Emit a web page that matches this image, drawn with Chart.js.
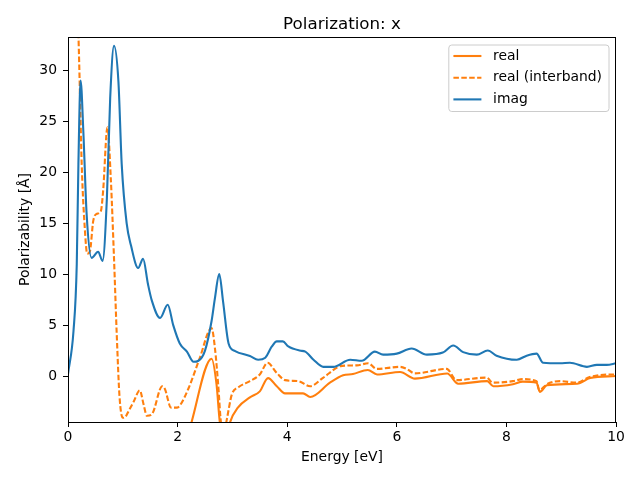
<!DOCTYPE html>
<html>
<head>
<meta charset="utf-8">
<script src="https://cdn.jsdelivr.net/npm/chart.js@4.4.1/dist/chart.umd.min.js"></script>
<style>
  html, body { margin: 0; padding: 0; background: #fff; }
  canvas { display: block; }
</style>
</head>
<body>
<canvas id="polChart" width="640" height="480"></canvas>
<script>
// values
const realEnergy = [0.0, 0.5, 1.0, 1.5, 2.0, 2.2, 2.62, 2.71, 2.77, 2.86, 2.96, 3.1, 3.32, 3.5, 3.65, 3.81, 3.96, 4.2, 4.29, 4.42, 4.78, 5.02, 5.2, 5.47, 5.64, 6.06, 6.33, 6.92, 7.12, 7.65, 7.76, 8.12, 8.3, 8.55, 8.61, 8.74, 9.29, 9.53, 10];
const realValues = [-60, -35, -22, -14, -8, -5.5, 1.7, -0.8, -4.5, -7, -4.5, -3.1, -2.1, -1.5, -0.2, -1.0, -1.7, -1.7, -1.7, -2.05, -0.65, 0.07, 0.2, 0.6, 0.15, 0.4, -0.25, 0.25, -0.75, -0.5, -1.0, -0.8, -0.55, -0.65, -1.55, -0.9, -0.75, -0.2, 0.0];

const interEnergy = [0, 0.1, 0.19, 0.22, 0.25, 0.31, 0.35, 0.4, 0.46, 0.52, 0.6, 0.64, 0.72, 0.78, 0.84, 0.89, 0.94, 1.0, 1.05, 1.1, 1.2, 1.31, 1.38, 1.44, 1.53, 1.72, 1.77, 1.88, 1.98, 2.04, 2.2, 2.4, 2.62, 2.68, 2.74, 2.79, 2.85, 2.9, 2.99, 3.11, 3.32, 3.5, 3.64, 3.81, 3.96, 4.2, 4.42, 4.66, 5.0, 5.27, 5.48, 5.63, 6.06, 6.18, 6.33, 6.91, 7.09, 7.64, 7.75, 8.12, 8.3, 8.55, 8.6, 8.74, 8.98, 9.28, 9.52, 9.89, 10];
const interValues = [60, 45, 33.5, 27.3, 20.8, 14.2, 12.0, 12.25, 15.2, 15.9, 16.2, 18.1, 24.4, 19.5, 11.5, 4.0, -2.0, -4.1, -4.0, -3.5, -2.5, -1.4, -2.8, -3.9, -3.75, -1.0, -1.3, -3.1, -3.1, -2.9, -1.2, 1.7, 4.7, 2.8, -0.8, -4.5, -5.5, -4.2, -1.8, -1.1, -0.5, 0.15, 1.3, 0.3, -0.4, -0.5, -1.0, -0.15, 1.0, 1.05, 1.25, 0.7, 0.9, 0.7, 0.26, 0.7, -0.4, -0.15, -0.65, -0.5, -0.3, -0.5, -1.4, -0.8, -0.5, -0.65, -0.1, 0.15, 0.15];

const imagEnergy = [0, 0.1, 0.16, 0.19, 0.23, 0.28, 0.34, 0.43, 0.55, 0.63, 0.71, 0.77, 0.84, 0.92, 0.98, 1.07, 1.15, 1.28, 1.37, 1.46, 1.53, 1.68, 1.82, 1.92, 2.04, 2.17, 2.29, 2.38, 2.5, 2.62, 2.68, 2.76, 2.83, 2.93, 3.05, 3.32, 3.47, 3.6, 3.72, 3.81, 3.92, 4.02, 4.23, 4.33, 4.48, 4.66, 4.84, 5.15, 5.36, 5.6, 5.75, 6.0, 6.27, 6.55, 6.84, 7.03, 7.21, 7.46, 7.66, 7.82, 8.19, 8.37, 8.55, 8.67, 8.98, 9.16, 9.47, 9.65, 9.83, 10];
const imagValues = [0.2, 4.4, 11, 20.8, 29, 24, 15.9, 11.6, 12.2, 11.3, 17.5, 27.3, 32.4, 28.9, 20.8, 15.0, 12.8, 10.6, 11.5, 9.0, 7.4, 5.7, 7.0, 5.0, 3.2, 2.4, 1.4, 1.5, 2.5, 5.4, 7.6, 10.0, 7.3, 3.2, 2.45, 1.96, 1.6, 1.8, 2.9, 3.4, 3.4, 2.9, 2.5, 2.4, 1.6, 0.9, 0.9, 1.6, 1.5, 2.4, 2.1, 2.2, 2.7, 2.1, 2.3, 3.0, 2.35, 2.1, 2.5, 2.0, 1.6, 2.0, 2.2, 1.3, 1.25, 1.3, 0.9, 1.1, 1.1, 1.25];

const xTicks = [0, 2, 4, 6, 8, 10];
const yTicks = [0, 5, 10, 15, 20, 25, 30];

const FONT = "'DejaVu Sans', sans-serif";
const ORANGE = '#ff7f0e';
const BLUE = '#1f77b4';
const DASH = [5.5, 2.4];

function pts(xs, ys) {
  return xs.map((x, i) => ({ x: x, y: ys[i] }));
}

// title, axis labels, full frame and a matplotlib-like legend
const decorPlugin = {
  id: 'decor',
  afterDraw(chart) {
    const ctx = chart.ctx;
    const a = chart.chartArea;
    ctx.save();

    ctx.strokeStyle = '#000';
    ctx.lineWidth = 1;
    ctx.strokeRect(Math.round(a.left) + 0.5, Math.round(a.top) + 0.5,
      Math.round(a.right - a.left) - 1, Math.round(a.bottom - a.top));

    ctx.fillStyle = '#000';
    ctx.textAlign = 'center';
    ctx.textBaseline = 'alphabetic';
    ctx.font = '16.7px ' + FONT;
    ctx.fillText('Polarization: x', (a.left + a.right) / 2, a.top - 8);

    ctx.font = '13.9px ' + FONT;
    ctx.textBaseline = 'middle';
    ctx.fillText('Energy [eV]', (a.left + a.right) / 2, 457);
    ctx.save();
    ctx.translate(25, (a.top + a.bottom) / 2);
    ctx.rotate(-Math.PI / 2);
    ctx.fillText('Polarizability [Å]', 0, 0);
    ctx.restore();

    // legend
    const sets = chart.data.datasets;
    let maxW = 0;
    sets.forEach(d => { maxW = Math.max(maxW, ctx.measureText(d.label).width); });
    const w = 4.6 + 28 + 11.7 + maxW + 7;
    const h = 66.5;
    const bx = a.right - 7 - w;
    const by = a.top + 8;
    ctx.beginPath();
    ctx.roundRect(bx, by, w, h, 3);
    ctx.fillStyle = 'rgba(255,255,255,0.8)';
    ctx.fill();
    ctx.strokeStyle = '#cccccc';
    ctx.lineWidth = 1;
    ctx.stroke();

    sets.forEach((d, i) => {
      const y = by + 11 + i * 21.7;
      ctx.beginPath();
      ctx.setLineDash(d.borderDash || []);
      ctx.strokeStyle = d.borderColor;
      ctx.lineWidth = d.borderWidth;
      ctx.moveTo(bx + 4.6, y);
      ctx.lineTo(bx + 4.6 + 28, y);
      ctx.stroke();
      ctx.setLineDash([]);
      ctx.fillStyle = '#000';
      ctx.textAlign = 'left';
      ctx.textBaseline = 'middle';
      ctx.fillText(d.label, bx + 4.6 + 28 + 11.7, y);
    });

    ctx.restore();
  }
};

new Chart(document.getElementById('polChart'), {
  type: 'line',
  data: {
    datasets: [
      {
        label: 'real',
        data: pts(realEnergy, realValues),
        borderColor: ORANGE,
        borderWidth: 2.1,
        order: 3
      },
      {
        label: 'real (interband)',
        data: pts(interEnergy, interValues),
        borderColor: ORANGE,
        borderWidth: 2.1,
        borderDash: DASH,
        order: 2
      },
      {
        label: 'imag',
        data: pts(imagEnergy, imagValues),
        borderColor: BLUE,
        borderWidth: 2.1,
        order: 1
      }
    ]
  },
  options: {
    responsive: false,
    animation: false,
    layout: { padding: { top: 37, right: 24, left: 0, bottom: 0 } },
    elements: {
      point: { radius: 0 },
      line: { cubicInterpolationMode: 'monotone', fill: false }
    },
    datasets: { line: { clip: 0 } },
    scales: {
      x: {
        type: 'linear',
        min: 0,
        max: 10,
        afterBuildTicks: s => { s.ticks = xTicks.map(v => ({ value: v })); },
        afterFit: s => { s.height = 58; },
        grid: { drawOnChartArea: false, drawTicks: true, tickLength: 5, color: '#000' },
        border: { display: true, color: '#000' },
        ticks: { color: '#000', padding: 2, maxRotation: 0, font: { family: FONT, size: 13.9 }, callback: v => String(v) }
      },
      y: {
        type: 'linear',
        min: -4.51,
        max: 33.27,
        afterBuildTicks: s => { s.ticks = yTicks.map(v => ({ value: v })); },
        afterFit: s => { s.width = 68; },
        grid: { drawOnChartArea: false, drawTicks: true, tickLength: 5, color: '#000' },
        border: { display: true, color: '#000' },
        ticks: { color: '#000', padding: 6, font: { family: FONT, size: 13.9 }, callback: v => String(v) }
      }
    },
    plugins: {
      legend: { display: false },
      title: { display: false },
      tooltip: { enabled: false }
    }
  },
  plugins: [decorPlugin]
});
</script>
</body>
</html>
